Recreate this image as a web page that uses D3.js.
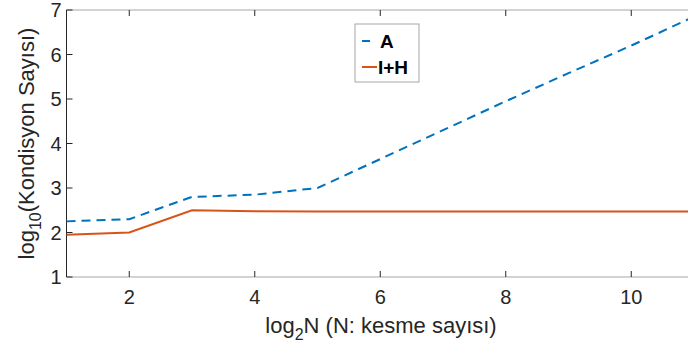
<!DOCTYPE html>
<html>
<head>
<meta charset="utf-8">
<script src="https://cdn.jsdelivr.net/npm/d3@7"></script>
<style>
  body { margin: 0; background: #fff; }
  svg { display: block; font-family: "Liberation Sans", Arial, sans-serif; }
</style>
</head>
<body>
<div id="chart"></div>
<script>
// data
var xVals = [1, 2, 3, 4, 5, 6, 7, 8, 9, 10, 11];
var seriesA = [2.25, 2.3, 2.8, 2.85, 3.0, 3.65, 4.3, 4.95, 5.58, 6.2, 6.85];
var seriesIH = [1.95, 2.0, 2.5, 2.48, 2.47, 2.47, 2.47, 2.47, 2.47, 2.47, 2.47];
var xTicks = [2, 4, 6, 8, 10];
var yTicks = [1, 2, 3, 4, 5, 6, 7];
var legendNames = ['A', 'I+H'];

var svgWidth = 688, svgHeight = 349;
var margin = {top: 10, left: 66.5};
var plotW = 627.5, plotH = 267;

var svg = d3.select('#chart').append('svg')
    .attr('width', svgWidth)
    .attr('height', svgHeight);

var g = svg.append('g')
    .attr('transform', 'translate(' + margin.left + ',' + margin.top + ')');

var x = d3.scaleLinear().domain([1, 11]).range([0, plotW]);
var y = d3.scaleLinear().domain([1, 7]).range([plotH, 0]);

// box lines (top and bottom light grey)
g.append('line').attr('x1', 0).attr('x2', plotW).attr('y1', 0).attr('y2', 0)
    .style('stroke', '#a6a6a6').style('stroke-width', 1);
g.append('line').attr('x1', 0).attr('x2', plotW).attr('y1', plotH).attr('y2', plotH)
    .style('stroke', '#a6a6a6').style('stroke-width', 1);

// x ticks, inward, bottom and top
var tickLen = 6;
g.append('g').selectAll('line.xb').data(xTicks).enter().append('line')
    .attr('x1', function (d) { return x(d); }).attr('x2', function (d) { return x(d); })
    .attr('y1', plotH).attr('y2', plotH - tickLen)
    .style('stroke', '#262626');
g.append('g').selectAll('line.xt').data(xTicks).enter().append('line')
    .attr('x1', function (d) { return x(d); }).attr('x2', function (d) { return x(d); })
    .attr('y1', 0).attr('y2', tickLen)
    .style('stroke', '#262626');
g.append('g').selectAll('text').data(xTicks).enter().append('text')
    .attr('x', function (d) { return x(d); })
    .attr('y', plotH + 27)
    .attr('text-anchor', 'middle')
    .style('font-size', '20px')
    .style('fill', '#262626')
    .text(function (d) { return d; });

// y axis
g.append('line').attr('x1', 0).attr('x2', 0).attr('y1', 0).attr('y2', plotH)
    .style('stroke', '#262626').style('stroke-width', 1);
g.append('g').selectAll('line').data(yTicks).enter().append('line')
    .attr('x1', 0).attr('x2', tickLen)
    .attr('y1', function (d) { return y(d); }).attr('y2', function (d) { return y(d); })
    .style('stroke', '#262626');
g.append('g').selectAll('text').data(yTicks).enter().append('text')
    .attr('x', -5)
    .attr('y', function (d) { return y(d); })
    .attr('dy', '0.36em')
    .attr('text-anchor', 'end')
    .style('font-size', '20px')
    .style('fill', '#262626')
    .text(function (d) { return d; });

// lines
var lineA = d3.line()
    .x(function (d, i) { return x(xVals[i]); })
    .y(function (d) { return y(d); });

g.append('path')
    .attr('d', lineA(seriesIH))
    .style('fill', 'none')
    .style('stroke', '#D95319')
    .style('stroke-width', 2);

g.append('path')
    .attr('d', lineA(seriesA))
    .style('fill', 'none')
    .style('stroke', '#0072BD')
    .style('stroke-width', 2)
    .style('stroke-dasharray', '9,6');

// axis labels
var xl = svg.append('text')
    .attr('x', 381)
    .attr('y', 333)
    .attr('text-anchor', 'middle')
    .style('font-size', '22px')
    .style('fill', '#262626');
xl.append('tspan').text('log');
xl.append('tspan').attr('dy', 7).style('font-size', '16px').text('2');
xl.append('tspan').attr('dy', -7).text('N (N: kesme sayısı)');

var yl = svg.append('text')
    .attr('transform', 'translate(34,' + (margin.top + plotH / 2) + ') rotate(-90)')
    .attr('text-anchor', 'middle')
    .style('font-size', '22px')
    .style('fill', '#262626');
yl.append('tspan').text('log');
yl.append('tspan').attr('dy', 7).style('font-size', '16px').text('10');
yl.append('tspan').attr('dy', -7).text('(Kondisyon Sayısı)');

// legend
var lg = svg.append('g').attr('transform', 'translate(355,24)');
lg.append('rect')
    .attr('width', 64).attr('height', 58)
    .style('fill', '#fff')
    .style('stroke', '#a6a6a6')
    .style('stroke-width', 1);
var legColors = ['#0072BD', '#D95319'];
var legDash = ['9,6', null];
legendNames.forEach(function (name, i) {
    var ly = 17 + i * 26;
    lg.append('line')
        .attr('x1', 7).attr('x2', i === 0 ? 15 : 22)
        .attr('y1', ly).attr('y2', ly)
        .style('stroke', legColors[i])
        .style('stroke-width', 2)
        .style('stroke-dasharray', legDash[i]);
    lg.append('text')
        .attr('x', i === 0 ? 25 : 23)
        .attr('y', ly)
        .attr('dy', '0.36em')
        .style('font-size', '19px')
        .style('font-weight', 'bold')
        .style('fill', '#000')
        .text(name);
});
</script>
</body>
</html>
